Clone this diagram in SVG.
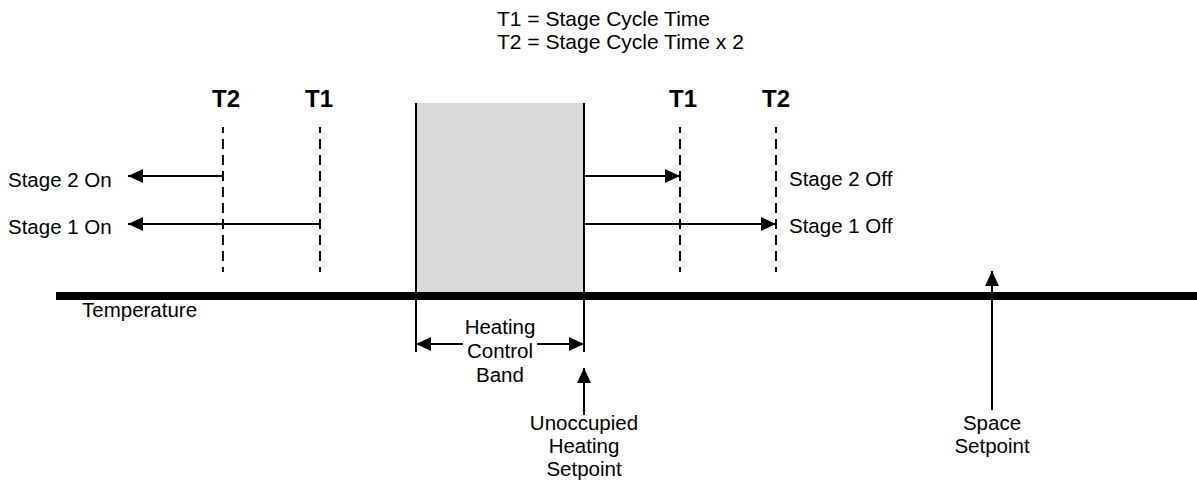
<svg xmlns="http://www.w3.org/2000/svg" width="1197" height="480" viewBox="0 0 1197 480">
<defs>
<marker id="ah" markerUnits="userSpaceOnUse" markerWidth="16" markerHeight="15" refX="15" refY="7" orient="auto-start-reverse">
<path d="M0,0 L15,7 L0,14 z" fill="#000"/>
</marker>
<style>
text{font-family:"Liberation Sans",Arial,sans-serif;font-size:20.5px;fill:#000}
.top{font-size:21px}
.b{font-weight:bold;font-size:24px}
.c{text-anchor:middle}
.dash{stroke:#000;stroke-width:2;stroke-dasharray:10 6;stroke-dashoffset:4;fill:none}
.ln{stroke:#000;stroke-width:2;fill:none}
.arr{stroke:#000;stroke-width:2;fill:none;marker-end:url(#ah)}
</style>
</defs>
<rect width="1197" height="480" fill="#fff"/>
<g id="legend">
<text class="top" x="497" y="26">T1 = Stage Cycle Time</text>
<text class="top" x="497" y="49">T2 = Stage Cycle Time x 2</text>
</g>
<g id="band-box">
<rect x="416" y="103" width="168" height="193" fill="#d9d9d9"/>
<line class="ln" x1="416" y1="103" x2="416" y2="352"/>
<line class="ln" x1="584" y1="103" x2="584" y2="352"/>
</g>
<g id="timers">
<text class="b c" x="226" y="107">T2</text>
<text class="b c" x="319" y="107">T1</text>
<text class="b c" x="683" y="107">T1</text>
<text class="b c" x="776" y="107">T2</text>
<line class="dash" x1="223" y1="127" x2="223" y2="272"/>
<line class="dash" x1="320" y1="127" x2="320" y2="272"/>
<line class="dash" x1="680" y1="127" x2="680" y2="272"/>
<line class="dash" x1="776" y1="127" x2="776" y2="272"/>
</g>
<g id="axis">
<line x1="56" y1="296" x2="1197" y2="296" stroke="#000" stroke-width="8"/>
<text x="82" y="317">Temperature</text>
</g>
<g id="stage-labels">
<text x="8" y="187">Stage 2 On</text>
<text x="8" y="234">Stage 1 On</text>
<text x="789" y="186">Stage 2 Off</text>
<text x="789" y="233">Stage 1 Off</text>
</g>
<g id="band-label">
<text class="c" x="500" y="334">Heating</text>
<text class="c" x="500" y="358">Control</text>
<text class="c" x="500" y="382">Band</text>
</g>
<g id="unocc-label">
<text class="c" x="584" y="430">Unoccupied</text>
<text class="c" x="584" y="453">Heating</text>
<text class="c" x="584" y="476">Setpoint</text>
</g>
<g id="space-label">
<text class="c" x="992" y="430">Space</text>
<text class="c" x="992" y="453">Setpoint</text>
</g>
<g id="connectors">
<line class="arr" x1="223" y1="176" x2="128" y2="176"/>
<line class="arr" x1="320" y1="224" x2="128" y2="224"/>
<line class="arr" x1="584" y1="176" x2="680" y2="176"/>
<line class="arr" x1="584" y1="224" x2="776" y2="224"/>
<line class="arr" x1="463" y1="344" x2="416" y2="344"/>
<line class="arr" x1="537" y1="344" x2="584" y2="344"/>
<line class="arr" x1="584" y1="415" x2="584" y2="368"/>
<line class="arr" x1="992" y1="410" x2="992" y2="271"/>
</g>
</svg>
